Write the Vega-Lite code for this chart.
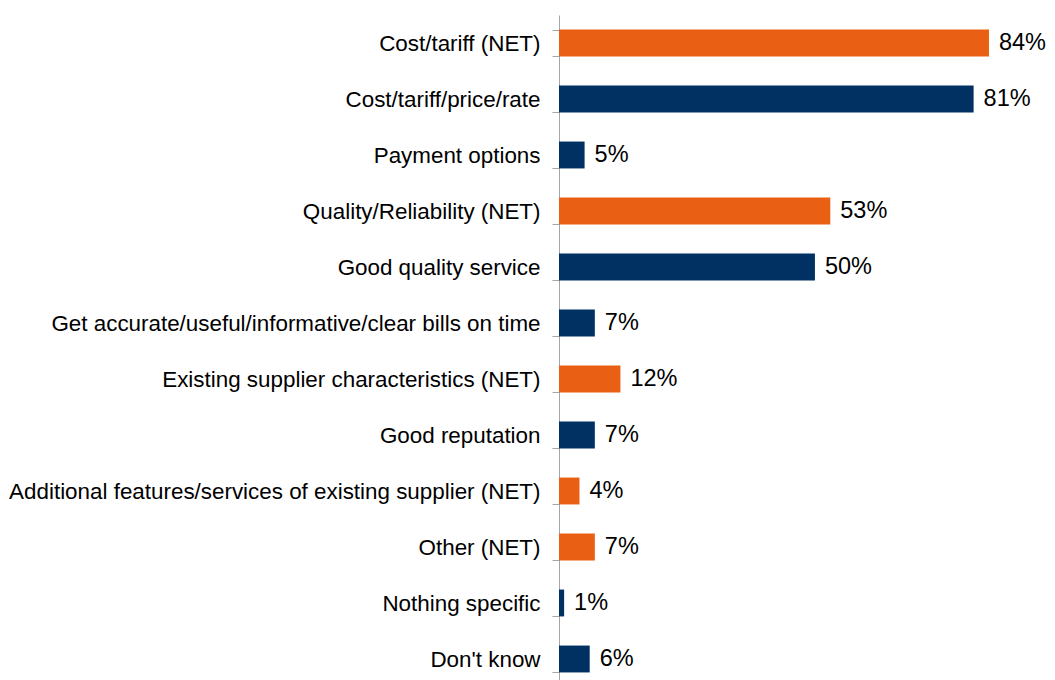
{
  "$schema": "https://vega.github.io/schema/vega-lite/v6.json",
  "width": 496,
  "height": 672,
  "autosize": {"type": "none"},
  "padding": {"left": 559, "top": 15, "right": 0, "bottom": 0},
  "background": "white",
  "config": {"view": {"stroke": null}, "font": "Liberation Sans"},
  "data": {
    "values": [
      {"label": "Cost/tariff (NET)", "value": 84, "text": "84%", "type": "net"},
      {"label": "Cost/tariff/price/rate", "value": 81, "text": "81%", "type": "item"},
      {"label": "Payment options", "value": 5, "text": "5%", "type": "item"},
      {"label": "Quality/Reliability (NET)", "value": 53, "text": "53%", "type": "net"},
      {"label": "Good quality service", "value": 50, "text": "50%", "type": "item"},
      {"label": "Get accurate/useful/informative/clear bills on time", "value": 7, "text": "7%", "type": "item"},
      {"label": "Existing supplier characteristics (NET)", "value": 12, "text": "12%", "type": "net"},
      {"label": "Good reputation", "value": 7, "text": "7%", "type": "item"},
      {"label": "Additional features/services of existing supplier (NET)", "value": 4, "text": "4%", "type": "net"},
      {"label": "Other (NET)", "value": 7, "text": "7%", "type": "net"},
      {"label": "Nothing specific", "value": 1, "text": "1%", "type": "item"},
      {"label": "Don't know", "value": 6, "text": "6%", "type": "item"}
    ]
  },
  "encoding": {
    "y": {
      "field": "label",
      "type": "nominal",
      "sort": null,
      "scale": {"paddingInner": 0.52, "paddingOuter": 0.26},
      "axis": {
        "title": null,
        "domainColor": "#A6A6A6",
        "tickColor": "#A6A6A6",
        "tickSize": 7,
        "tickBand": "extent",
        "labelFontSize": 22.4,
        "labelColor": "#000000",
        "labelPadding": 12,
        "labelLimit": 0
      }
    },
    "x": {
      "field": "value",
      "type": "quantitative",
      "scale": {"domain": [0, 96.9], "nice": false},
      "axis": null
    }
  },
  "layer": [
    {
      "mark": {"type": "bar"},
      "encoding": {
        "color": {
          "field": "type",
          "type": "nominal",
          "scale": {"domain": ["net", "item"], "range": ["#E95F13", "#003162"]},
          "legend": null
        }
      }
    },
    {
      "mark": {"type": "text", "align": "left", "baseline": "middle", "dx": 10, "fontSize": 23.5, "color": "#000000"},
      "encoding": {"text": {"field": "text"}}
    }
  ]
}
